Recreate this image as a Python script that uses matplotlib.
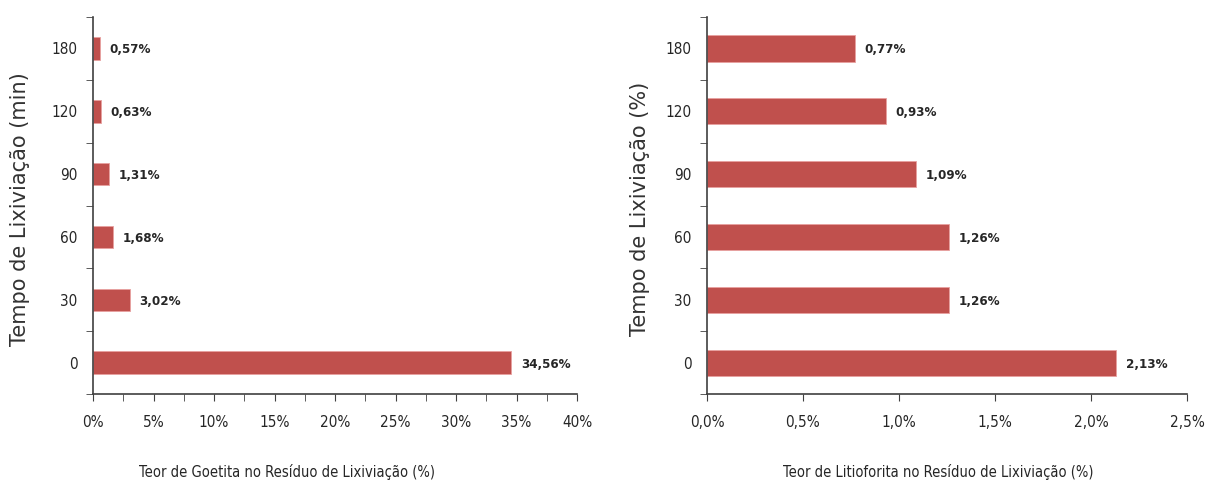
import matplotlib.pyplot as plt
from matplotlib.ticker import MultipleLocator, FuncFormatter

tempos = ['0', '30', '60', '90', '120', '180']
goetita = [34.56, 3.02, 1.68, 1.31, 0.63, 0.57]
litioforita = [2.13, 1.26, 1.26, 1.09, 0.93, 0.77]

cor = '#C0504D'
txt = '#262626'


def virgula(v, casas):
    return (('%.' + str(casas) + 'f%%') % v).replace('.', ',')


def painel(ax, valores, xmax, passo, menor, casas, altura, xlabel, ylabel, ylx, xlx):
    pos = list(range(len(tempos)))
    ax.barh(pos, valores, height=altura, color=cor, edgecolor='#e8a0a0', linewidth=0.6)
    for p, v in zip(pos, valores):
        ax.annotate(virgula(v, 2), (v, p), xytext=(7, -1),
                    textcoords='offset points', va='center', ha='left',
                    fontsize=9.5, fontweight='bold', color=txt,
                    fontstretch='condensed')
    ax.set_xlim(0, xmax)
    ax.set_ylim(-0.5, len(tempos) - 0.5)
    ax.xaxis.set_major_locator(MultipleLocator(passo))
    if menor:
        ax.xaxis.set_minor_locator(MultipleLocator(menor))
    ax.xaxis.set_major_formatter(FuncFormatter(lambda v, _: virgula(v, casas)))
    ax.set_yticks(pos)
    ax.set_yticklabels(tempos)
    ax.set_yticks([p + 0.5 for p in [-1] + pos], minor=True)
    ax.tick_params(axis='y', which='major', length=0, pad=11)
    ax.tick_params(axis='y', which='minor', length=5, direction='out', color='#404040')
    ax.tick_params(axis='x', which='both', length=5, direction='out', color='#404040', pad=10)
    for lab in ax.get_xticklabels() + ax.get_yticklabels():
        lab.set_fontstretch('condensed')
        lab.set_fontsize(11)
        lab.set_color(txt)
    for s in ['top', 'right']:
        ax.spines[s].set_visible(False)
    for s in ['left', 'bottom']:
        ax.spines[s].set_color('#404040')
        ax.spines[s].set_linewidth(1.2)
    ax.set_xlabel(xlabel, fontsize=10.5, color=txt, fontstretch='condensed')
    ax.xaxis.set_label_coords(xlx, -0.185)
    ax.set_ylabel(ylabel, fontsize=15, color='#333333')
    ax.yaxis.set_label_coords(ylx, 0.49)


fig = plt.figure(figsize=(12.11, 4.86), dpi=100)
ax1 = fig.add_axes([0.0768, 0.189, 0.3997, 0.776])
ax2 = fig.add_axes([0.5838, 0.189, 0.3964, 0.776])

painel(ax1, goetita, 40, 5, 2.5, 0, 0.36,
       'Teor de Goetita no Resíduo de Lixiviação (%)', 'Tempo de Lixiviação (min)',
       -0.13, 0.40)
painel(ax2, litioforita, 2.5, 0.5, None, 1, 0.42,
       'Teor de Litioforita no Resíduo de Lixiviação (%)', 'Tempo de Lixiviação (%)',
       -0.119, 0.481)

fig.savefig('out.png', dpi=100)
